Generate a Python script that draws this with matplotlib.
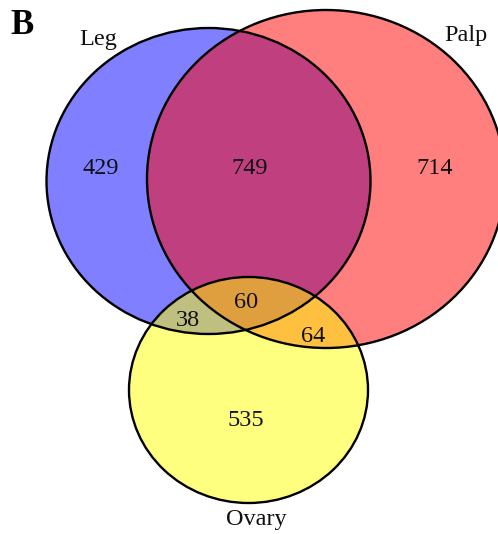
import matplotlib
matplotlib.use("Agg")
import matplotlib.pyplot as plt
from matplotlib.patches import Ellipse

# Data
set_names = ["Leg", "Palp", "Ovary"]
set_colors = ["#0000ff", "#ff0000", "#ffff00"]
region_labels = ["Leg only", "Leg&Palp", "Palp only", "All", "Leg&Ovary", "Palp&Ovary", "Ovary only"]
region_counts = [429, 749, 714, 60, 38, 64, 535]

# Layout (pixel coordinates)
circle_centers = [(208.5, 181), (326, 179), (248.5, 390)]
circle_sizes = [(324, 306), (358, 338), (239, 226)]
region_pos = [(101, 168), (250, 168), (435, 168), (246, 302), (188, 320), (313, 337), (246, 421)]
name_pos = [(98, 40), (466, 35), (256, 520)]

plt.rcParams['font.family'] = ['Liberation Serif', 'DejaVu Serif']

fig = plt.figure(figsize=(4.98, 5.34), dpi=100)
ax = fig.add_axes([0, 0, 1, 1])
ax.set_xlim(0, 498)
ax.set_ylim(534, 0)
ax.axis('off')

for c, s, col in zip(circle_centers, circle_sizes, set_colors):
    ax.add_patch(Ellipse(c, s[0], s[1], facecolor=col, alpha=0.5, edgecolor='none'))
for c, s in zip(circle_centers, circle_sizes):
    ax.add_patch(Ellipse(c, s[0], s[1], facecolor='none', edgecolor='black', lw=1.7))

for (x, y), n in zip(region_pos, region_counts):
    ax.text(x, y, str(n), ha='center', va='center', fontsize=17.5, color='#111111')
for (x, y), n in zip(name_pos, set_names):
    ax.text(x, y, n, ha='center', va='center', fontsize=17.5, color='#111111')

ax.text(22, 25, "B", ha='center', va='center', fontsize=25, fontweight='bold')

fig.savefig("out.png", dpi=100)
